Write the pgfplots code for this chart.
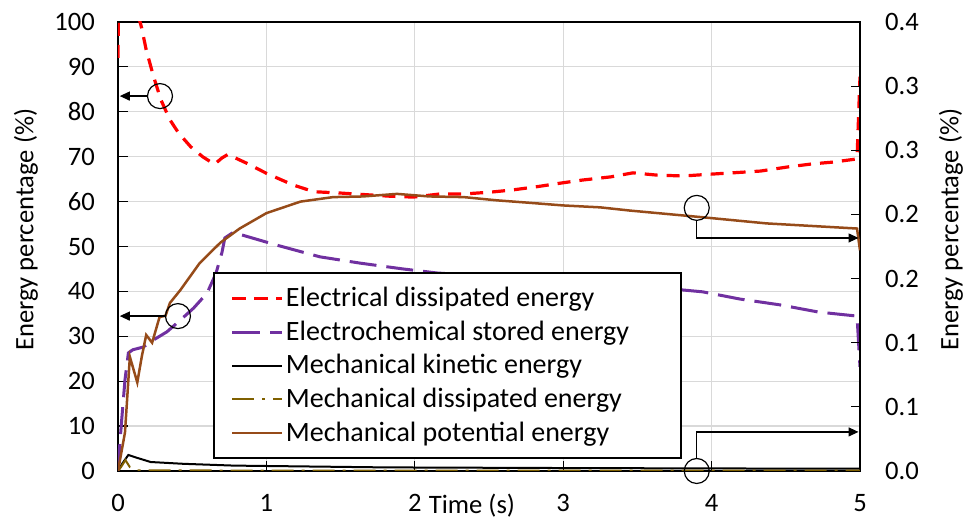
\documentclass[border=0pt]{standalone}
\usepackage{pgfplots}
\pgfplotsset{compat=1.18}
\usetikzlibrary{arrows.meta}
\usepackage{fontspec}
\setmainfont{Carlito}
\definecolor{myred}{RGB}{255,0,0}
\definecolor{mypurple}{RGB}{112,48,160}
\definecolor{myolive}{RGB}{127,96,0}
\definecolor{mybrown}{RGB}{150,75,25}
\definecolor{gridgray}{RGB}{217,217,217}
\newcommand\fs{\fontsize{13.3}{16}\selectfont}
\newcommand\lfs{\fontsize{14}{16.5}\selectfont}
\begin{document}
\begin{tikzpicture}
\begin{axis}[
  scale only axis, width=371pt, height=224.5pt,
  xmin=0, xmax=5, ymin=0, ymax=100,
  xtick={0,1,2,3,4,5}, ytick={0,10,20,30,40,50,60,70,80,90,100},
  xtick pos=bottom, ytick pos=left,
  tick align=inside, major tick length=5pt,
  tick style={black, line width=0.6pt},
  grid=major, major grid style={gridgray, line width=0.6pt},
  axis line style={black, line width=0.9pt},
  /pgf/number format/assume math mode=true,
  ticklabel style={font=\fs},
  yticklabel style={xshift=-8pt},
  xticklabel style={yshift=-8pt},
  label style={font=\fs},
  xlabel={Time (s)},
  xlabel style={at={(axis description cs:0.477,0)}, anchor=north, yshift=-8pt},
  ylabel={Energy percentage (\%)},
  ylabel style={at={(axis description cs:-0.124,0.537)}, anchor=center},
]
\addplot[myred, line width=1.6pt, dash pattern=on 6.5pt off 4.5pt] coordinates {
(0,92) (0.005,108) (0.1,106) (0.16,98.6) (0.19,93.8) (0.24,87.8) (0.29,82.6)
(0.35,78.2) (0.41,75.2) (0.49,72.2) (0.57,70.0) (0.65,68.3) (0.70,69.7) (0.74,70.5)
(0.87,68.5) (1.00,66.3) (1.18,63.7) (1.32,62.2) (1.50,61.9) (1.83,61.2) (1.99,61.0)
(2.17,61.7) (2.33,61.7) (2.51,62.1) (2.66,62.6) (2.82,63.3) (2.98,64.1) (3.13,64.8)
(3.32,65.5) (3.47,66.4) (3.63,65.9) (3.81,65.7) (3.99,66.1) (4.14,66.4) (4.33,66.8)
(4.51,67.7) (4.68,68.4) (4.82,68.8) (4.98,69.5) (5.0,87.8)
};
\addplot[mypurple, line width=1.5pt, dash pattern=on 13.5pt off 5pt] coordinates {
(0,0) (0.01,5) (0.025,11.4) (0.047,20.3) (0.07,26.3) (0.10,27) (0.17,27.6)
(0.24,29.2) (0.33,31.0) (0.42,33.6) (0.51,36.3) (0.60,39.6) (0.66,44) (0.70,48.6)
(0.72,51.9) (0.77,53.0) (0.79,53) (1.07,50.3) (1.36,47.7) (1.63,46.3) (1.92,45)
(2.15,44.1) (3.0,42.2) (3.65,40.8) (3.94,39.9) (4.19,38.3) (4.46,37.0) (4.72,35.4)
(4.98,34.5) (5.0,23.2)
};
\coordinate (c1) at (axis cs:0.283,83.5);
\coordinate (a1) at (axis cs:0.012,83.5);
\coordinate (c2) at (axis cs:0.404,34.5);
\coordinate (a2) at (axis cs:0.012,34.5);
\coordinate (c3) at (axis cs:3.90,58.6);
\coordinate (b3) at (axis cs:3.90,51.9);
\coordinate (a3) at (axis cs:4.99,51.9);
\coordinate (c4) at (axis cs:3.90,0);
\coordinate (b4) at (axis cs:3.90,8.7);
\coordinate (a4) at (axis cs:4.99,8.7);
\end{axis}
\begin{axis}[
  scale only axis, width=371pt, height=224.5pt,
  xmin=0, xmax=5, ymin=0, ymax=0.35,
  axis x line=none, axis y line*=right,
  ytick={0,0.05,0.1,0.15,0.2,0.25,0.3,0.35},
  yticklabels={0.0,0.1,0.1,0.2,0.2,0.3,0.3,0.4},
  tick align=inside, major tick length=4.5pt,
  tick style={black, line width=0.6pt},
  axis line style={black, line width=0.9pt},
  ticklabel style={font=\fs},
  yticklabel style={xshift=9pt},
  label style={font=\fs},
  ylabel={Energy percentage (\%)},
  ylabel style={at={(axis description cs:1.1226,0.537)}, anchor=center},
  legend image code/.code={\draw[#1] (0pt,0pt) -- (25pt,0pt);},
  legend style={at={(rel axis cs:0.128,0.0267)}, anchor=south west,
    draw=black, line width=0.8pt, fill=white, font=\lfs,
    inner xsep=8.5pt, inner ysep=5pt, row sep=1.6pt,
    nodes={inner xsep=1pt}},
  legend cell align=left,
]
\addlegendimage{myred, line width=1.6pt, dash pattern=on 7pt off 4pt}
\addlegendentry{\makebox[188pt][l]{Electrical dissipated energy}}
\addlegendimage{mypurple, line width=1.5pt, dash pattern=on 14pt off 5pt}
\addlegendentry{Electrochemical stored energy}
\addplot[black, line width=1pt] coordinates {
(0,0) (0.03,0.006) (0.07,0.0125) (0.13,0.0102) (0.22,0.0070) (0.44,0.0056)
(0.78,0.0042) (1.0,0.0039) (1.8,0.0028) (3.0,0.0023) (4.0,0.0020) (5.0,0.00175)
};
\addlegendentry{Mechanical kinetic energy}
\addplot[myolive, line width=1pt, dash pattern=on 11pt off 4pt on 1.5pt off 4pt] coordinates {
(0,0) (0.02,0.003) (0.05,0.0085) (0.08,0.003) (0.12,0.0005) (1,0.0003) (5,0.0003)
};
\addlegendentry{Mechanical dissipated energy}
\addplot[mybrown, line width=1.25pt] coordinates {
(0,0) (0.047,0.030) (0.08,0.089) (0.10,0.081) (0.13,0.069) (0.16,0.089) (0.19,0.106)
(0.23,0.100) (0.26,0.112) (0.28,0.120) (0.32,0.121) (0.35,0.131) (0.42,0.141)
(0.55,0.162) (0.69,0.178) (0.82,0.189) (1.00,0.201) (1.23,0.210) (1.45,0.2135)
(1.65,0.214) (1.88,0.216) (2.1,0.214) (2.33,0.2135) (2.55,0.211) (2.78,0.209)
(3.0,0.207) (3.25,0.2055) (3.45,0.203) (3.92,0.198) (4.37,0.193) (4.98,0.189) (5.0,0.172)
};
\addlegendentry{Mechanical potential energy}
\end{axis}
\begin{scope}[line width=0.6pt, black]
\draw (c1) circle (6.25pt);
\draw[-{Triangle[length=5pt,width=4.5pt]}] ([xshift=-6.25pt]c1) -- (a1);
\draw (c2) circle (6.25pt);
\draw[-{Triangle[length=5pt,width=4.5pt]}] ([xshift=-6.25pt]c2) -- (a2);
\draw (c3) circle (6.25pt);
\draw[-{Triangle[length=5pt,width=4.5pt]}] ([yshift=-6.25pt]c3) -- (b3) -- (a3);
\draw (c4) circle (6.25pt);
\draw[-{Triangle[length=5pt,width=4.5pt]}] ([yshift=6.25pt]c4) -- (b4) -- (a4);
\end{scope}
\pgfresetboundingbox
\path[use as bounding box] (-59pt,-25.5pt) rectangle (423pt,235.5pt);
\end{tikzpicture}
\end{document}
